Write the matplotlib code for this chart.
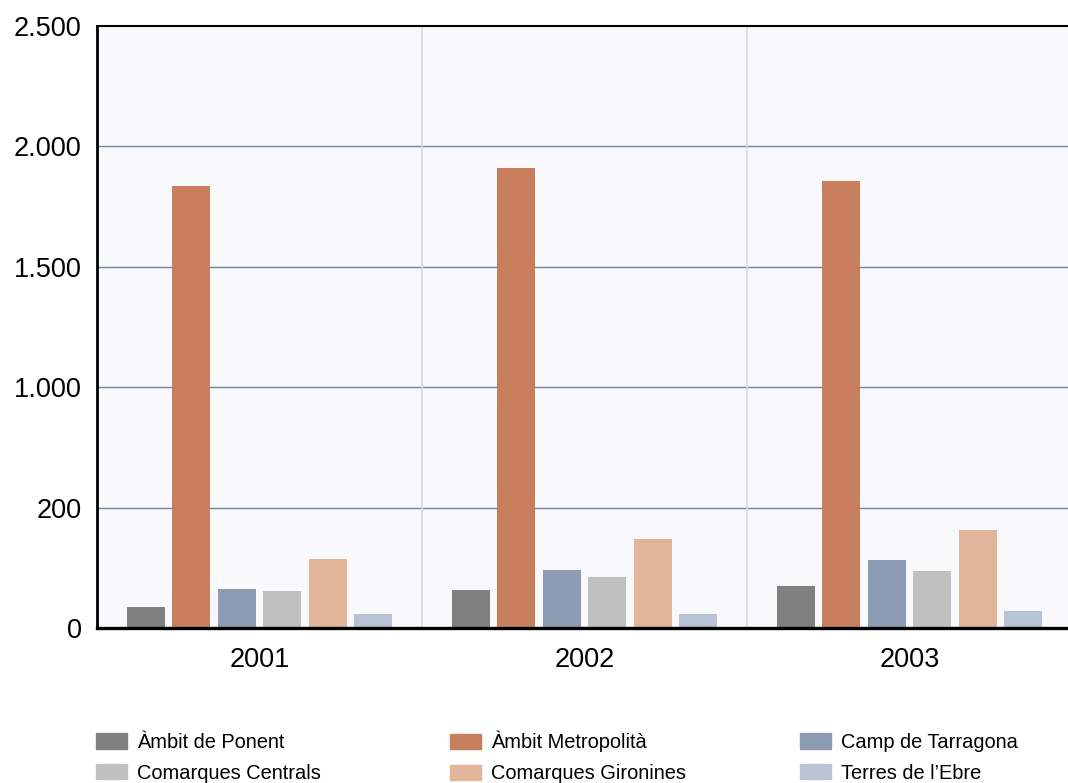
import matplotlib.pyplot as plt
import matplotlib.patches as mpatches
import numpy as np

plt.rcParams['font.family'] = ['Liberation Sans', 'DejaVu Sans']

#%%
# data
years = ["2001", "2002", "2003"]
regions = ["Àmbit de Ponent", "Àmbit Metropolità", "Camp de Tarragona",
           "Comarques Centrals", "Comarques Gironines", "Terres de l’Ebre"]
ponent = [87, 158, 174]
metropolita = [1835, 1910, 1856]
tarragona = [162, 241, 282]
centrals = [154, 212, 237]
gironines = [287, 370, 407]
ebre = [58, 58, 71]

colors = ["#808080", "#c97f5e", "#8a9bb3", "#c0c0c0", "#e1b59a", "#b8c4d5"]
yticks = [0, 500, 1000, 1500, 2000, 2500]
ytick_labels = ["0", "200", "1.000", "1.500", "2.000", "2.500"]

#%%
series = [ponent, metropolita, tarragona, centrals, gironines, ebre]
x = np.arange(len(years))

fig = plt.figure(figsize=(10.68, 7.83), dpi=100)
ax = fig.add_axes([97/1068, 1-628/783, 975/1068, 602/783])
ax.set_facecolor("#f9f9fb")

slot = 0.14
w = 0.117
for i, vals in enumerate(series):
    ax.bar(x + (i-2.5)*slot, vals, width=w, color=colors[i], zorder=3)

ax.set_xlim(-0.5, 2.5)
ax.set_ylim(0, 2500)
ax.set_yticks(yticks)
ax.set_yticklabels(ytick_labels)
ax.set_xticks(x)
ax.set_xticklabels(years)
ax.tick_params(axis="both", length=0, labelsize=19.5)
ax.tick_params(axis="y", pad=11)
ax.tick_params(axis="x", pad=14)

for yv in yticks[1:-1]:
    ax.axhline(yv, color="#6f87a3", lw=1, zorder=1)
for xv in [0.5, 1.5]:
    ax.axvline(xv, color="#d3d9e6", lw=1.2, zorder=1)

for s in ["left", "bottom", "top"]:
    ax.spines[s].set_linewidth(2)
    ax.spines[s].set_color("black")
ax.spines["top"].set_linewidth(1.5)
ax.spines["bottom"].set_linewidth(2.4)
ax.spines["right"].set_visible(False)
ax.spines["bottom"].set_zorder(4)

# legend: 3 columns, 2 rows, fixed column positions
col_x = [78/1068, 432/1068, 782/1068]
col_y = [715, 713, 715]
for c in range(3):
    handles = [mpatches.Patch(color=colors[c], label=regions[c]),
               mpatches.Patch(color=colors[c+3], label=regions[c+3])]
    fig.legend(handles=handles, loc="upper left",
               bbox_to_anchor=(col_x[c], 1-col_y[c]/783), frameon=False,
               fontsize=14.4, handlelength=1.55, handleheight=0.8,
               handletextpad=0.5, labelspacing=0.58)

fig.savefig("out.png", dpi=100)
